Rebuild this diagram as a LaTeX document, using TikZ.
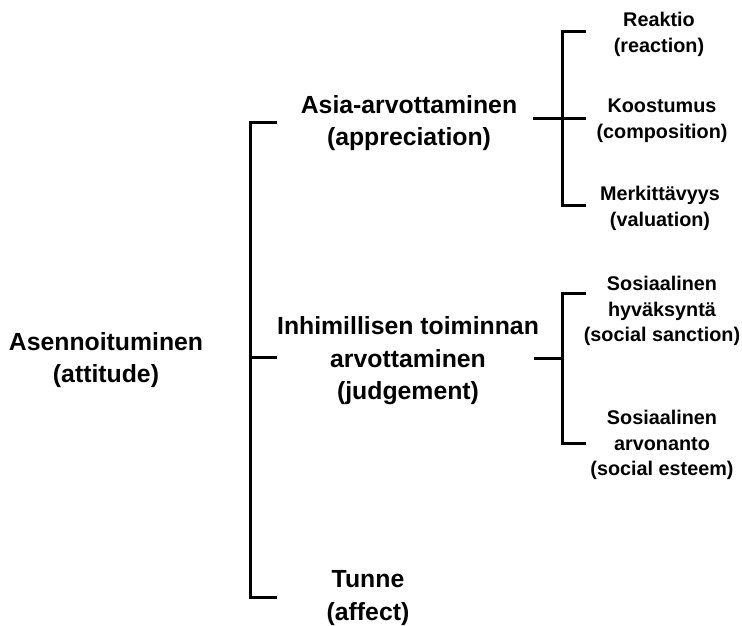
\documentclass[tikz,border=0pt]{standalone}
\usepackage{fontspec}
\setmainfont{Liberation Sans}
\begin{document}
\begin{tikzpicture}[x=1pt,y=-1pt,
  bigtxt/.style={align=center,inner sep=0pt,font=\bfseries\fontsize{24.8}{32.5}\selectfont},
  smalltxt/.style={align=center,inner sep=0pt,font=\bfseries\fontsize{19.8}{25.8}\selectfont},
  brk/.style={line width=3pt,line cap=butt,line join=miter}]
\useasboundingbox (0,0) rectangle (742,626);
% texts
\node[bigtxt] (att) at (106,360) {Asennoituminen\\(attitude)};
\node[bigtxt] (app) at (409,123) {Asia-arvottaminen\\(appreciation)};
\node[bigtxt] (jud) at (408,361) {Inhimillisen toiminnan\\arvottaminen\\(judgement)};
\node[bigtxt] (aff) at (368,598) {Tunne\\(affect)};
\node[smalltxt] (rea) at (659,34) {Reaktio\\(reaction)};
\node[smalltxt] (com) at (662,121) {Koostumus\\(composition)};
\node[smalltxt] (val) at (660,208) {Merkittävyys\\(valuation)};
\node[smalltxt] (san) at (662,311) {Sosiaalinen\\hyväksyntä\\(social sanction)};
\node[smalltxt] (est) at (662,445) {Sosiaalinen\\arvonanto\\(social esteem)};
% main bracket
\coordinate (mA) at (277,122);
\coordinate (mTop) at (250,122);
\coordinate (mMid) at (250,357);
\coordinate (mMidE) at (277,357);
\coordinate (mBot) at (250,597);
\coordinate (mB) at (277,597);
\draw[brk] (mA) -- (mTop) -- (mBot) -- (mB);
\draw[brk] (mMid) -- (mMidE);
% appreciation bracket
\coordinate (aS) at (533,118);
\coordinate (aM) at (562,118);
\coordinate (aT) at (562,32);
\coordinate (aTE) at (586,32);
\coordinate (aME) at (586,118);
\coordinate (aB) at (562,205);
\coordinate (aBE) at (586,205);
\draw[brk] (aTE) -- (aT) -- (aB) -- (aBE);
\draw[brk] (aS) -- (aME);
% judgement bracket
\coordinate (jS) at (534,358);
\coordinate (jM) at (562,358);
\coordinate (jT) at (562,293);
\coordinate (jTE) at (586,293);
\coordinate (jB) at (562,443);
\coordinate (jBE) at (586,443);
\draw[brk] (jTE) -- (jT) -- (jB) -- (jBE);
\draw[brk] (jS) -- (jM);
\end{tikzpicture}
\end{document}
